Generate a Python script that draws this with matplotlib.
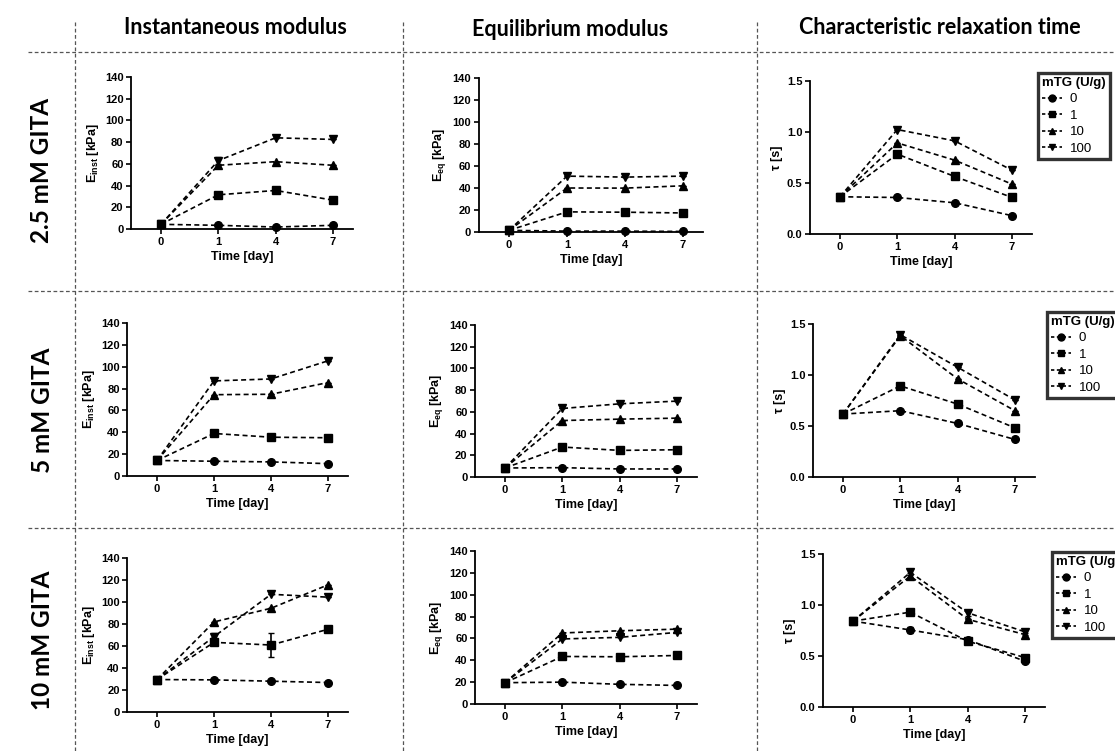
import matplotlib
matplotlib.use("Agg")
import matplotlib.pyplot as plt
from matplotlib.lines import Line2D

plt.rcParams['font.family'] = ['Liberation Sans', 'DejaVu Sans']
plt.rcParams['mathtext.fontset'] = 'custom'
plt.rcParams['mathtext.rm'] = 'Liberation Sans'
plt.rcParams['mathtext.bf'] = 'Liberation Sans:bold'

# ---------------- data ----------------
days = ['0', '1', '4', '7']
mtg_levels = ['0', '1', '10', '100']
col_titles = ['Instantaneous modulus', 'Equilibrium modulus', 'Characteristic relaxation time']
row_titles = ['2.5 mM GITA', '5 mM GITA', '10 mM GITA']

# series order: mTG 0, 1, 10, 100 ; values at days 0, 1, 4, 7
einst_25 = [[4.3, 3.4, 1.8, 3.4], [4.3, 31.5, 35.5, 26.6], [4.3, 58.7, 62.0, 58.7], [4.3, 63.0, 84.0, 82.5]]
eeq_25 = [[1.5, 0.8, 0.8, 0.5], [1.5, 18.3, 18.0, 17.3], [1.5, 40.0, 39.9, 42.0], [1.5, 50.8, 49.9, 50.8]]
tau_25 = [[0.365, 0.358, 0.306, 0.18], [0.365, 0.783, 0.564, 0.359], [0.365, 0.893, 0.724, 0.489], [0.365, 1.024, 0.913, 0.626]]

einst_5 = [[14.2, 13.5, 12.9, 11.3], [14.2, 38.9, 35.5, 35.0], [14.2, 74.4, 74.8, 85.5], [14.2, 87.0, 88.8, 105.4]]
eeq_5 = [[8.3, 8.6, 7.4, 7.4], [8.3, 27.6, 24.5, 25.1], [8.3, 52.0, 53.3, 54.2], [8.3, 63.1, 67.4, 69.9]]
tau_5 = [[0.617, 0.65, 0.525, 0.368], [0.617, 0.893, 0.715, 0.482], [0.617, 1.385, 0.962, 0.65], [0.617, 1.395, 1.076, 0.755]]

einst_10 = [[29.5, 29.2, 28.0, 26.8], [29.5, 63.3, 60.9, 75.2], [29.5, 81.9, 94.3, 115.6], [29.5, 68.5, 107.0, 104.4]]
eeq_10 = [[19.5, 20.0, 18.0, 17.0], [19.5, 43.5, 43.2, 44.4], [19.5, 65.0, 67.0, 68.5], [19.5, 59.5, 61.0, 65.5]]
tau_10 = [[0.842, 0.755, 0.66, 0.449], [0.842, 0.93, 0.645, 0.485], [0.842, 1.284, 0.86, 0.71], [0.842, 1.32, 0.924, 0.737]]

# visible error bars (SD), same layout
einst_25_err = [[0, 0, 0, 0], [0, 0, 0, 0], [0, 0, 0, 0], [0, 3.0, 0, 0]]
einst_10_err = [[0, 0, 0, 0], [0, 0, 10.6, 0], [0, 0, 0, 0], [0, 3.5, 0, 0]]
tau_10_err = [[0, 0.03, 0, 0], [0, 0, 0, 0], [0, 0.03, 0, 0.02], [0, 0.03, 0.03, 0.03]]
zero_err = [[0, 0, 0, 0]] * 4

panels = [
    [(einst_25, einst_25_err), (eeq_25, zero_err), (tau_25, zero_err)],
    [(einst_5, zero_err), (eeq_5, zero_err), (tau_5, zero_err)],
    [(einst_10, einst_10_err), (eeq_10, zero_err), (tau_10, tau_10_err)],
]

# ---------------- layout (pixels) ----------------
W, H = 1115, 751
fig = plt.figure(figsize=(W / 100, H / 100), dpi=100)

# (x of day-0 tick, spacing between ticks, y of top, y of bottom)
geom = [
    [(161, 57.3, 77, 229), (509, 58.0, 78, 232), (840, 57.3, 81, 234)],
    [(157, 57.0, 323, 476), (505, 57.3, 325, 477), (843, 57.3, 324, 477)],
    [(157, 57.0, 558, 712), (505, 57.3, 551, 704), (853, 57.3, 554, 707)],
]
legend_pos = [(1038, 73), (1047, 312), (1052, 552)]
XL, XR = -0.52, 3.35

markers = ['o', 's', '^', 'v']
ylabels = [r'$\mathbf{E_{inst}}$ [kPa]', r'$\mathbf{E_{eq}}$ [kPa]', 'τ [s]']

for r in range(3):
    for c in range(3):
        x0, sp, top, bot = geom[r][c]
        left = x0 + XL * sp
        width = (XR - XL) * sp
        ax = fig.add_axes([left / W, 1 - bot / H, width / W, (bot - top) / H])
        vals, errs = panels[r][c]
        xs = list(range(len(days)))
        for k in range(4):
            ax.errorbar(xs, vals[k], yerr=errs[k], color='black', ls=(0, (3, 2)), lw=1.2,
                        marker=markers[k], ms=5.5, capsize=2.5, elinewidth=1.2,
                        clip_on=False, zorder=3)
        ax.set_xlim(XL, XR)
        if c < 2:
            ax.set_ylim(0, 140)
            ax.set_yticks(range(0, 141, 20))
        else:
            ax.set_ylim(0, 1.5)
            ax.set_yticks([0.0, 0.5, 1.0, 1.5])
            ax.set_yticklabels(['0.0', '0.5', '1.0', '1.5'])
        ax.set_xticks(xs)
        ax.set_xticklabels(days)
        for s in ['top', 'right']:
            ax.spines[s].set_visible(False)
        for s in ['left', 'bottom']:
            ax.spines[s].set_linewidth(1.3)
        ax.tick_params(direction='out', length=3.5, width=1.2, labelsize=8, pad=2)
        for lab in ax.get_xticklabels() + ax.get_yticklabels():
            lab.set_fontweight('bold')
        ax.set_xlabel('Time [day]', fontsize=9, fontweight='bold', labelpad=3)
        ax.set_ylabel(ylabels[c], fontsize=9, fontweight='bold', labelpad=3)
        if c == 2:
            handles = [Line2D([0], [0], color='black', ls=(0, (2, 1.5)), lw=1.2,
                              marker=markers[k], ms=5) for k in range(4)]
            lx, ly = legend_pos[r]
            leg = fig.legend(handles, mtg_levels, title='mTG (U/g)', loc='upper left',
                             bbox_to_anchor=(lx / W, 1 - ly / H), fontsize=9.5,
                             title_fontsize=9.5, handlelength=1.5, handletextpad=0.6,
                             labelspacing=0.32, borderpad=0.3, frameon=True,
                             fancybox=False, borderaxespad=0)
            leg.get_title().set_fontweight('bold')
            leg.get_frame().set_edgecolor('black')
            leg.get_frame().set_linewidth(2.4)
            leg._legend_box.align = 'left'

# ---------------- titles and guide lines ----------------
title_x = [235, 570, 940]
title_y = [27, 30, 28]
for t, x, y in zip(col_titles, title_x, title_y):
    fig.text(x / W, 1 - y / H, t, ha='center', va='center', fontsize=15.5,
             fontweight='bold', family=['Lato', 'DejaVu Sans'])

row_y = [170, 410, 640]
for t, y in zip(row_titles, row_y):
    fig.text(42 / W, 1 - y / H, t, ha='center', va='center', rotation=90, fontsize=17.5,
             fontweight='bold', family=['Lato', 'DejaVu Sans'])

guide = dict(color='#555555', lw=0.9, ls=(0, (3, 2)), transform=fig.transFigure)
for y in [52, 291, 528]:
    fig.add_artist(Line2D([28 / W, 1], [1 - y / H, 1 - y / H], **guide))
for x in [75, 403, 757]:
    fig.add_artist(Line2D([x / W, x / W], [1 - 22 / H, 0], **guide))

fig.savefig('out.png', dpi=100)
